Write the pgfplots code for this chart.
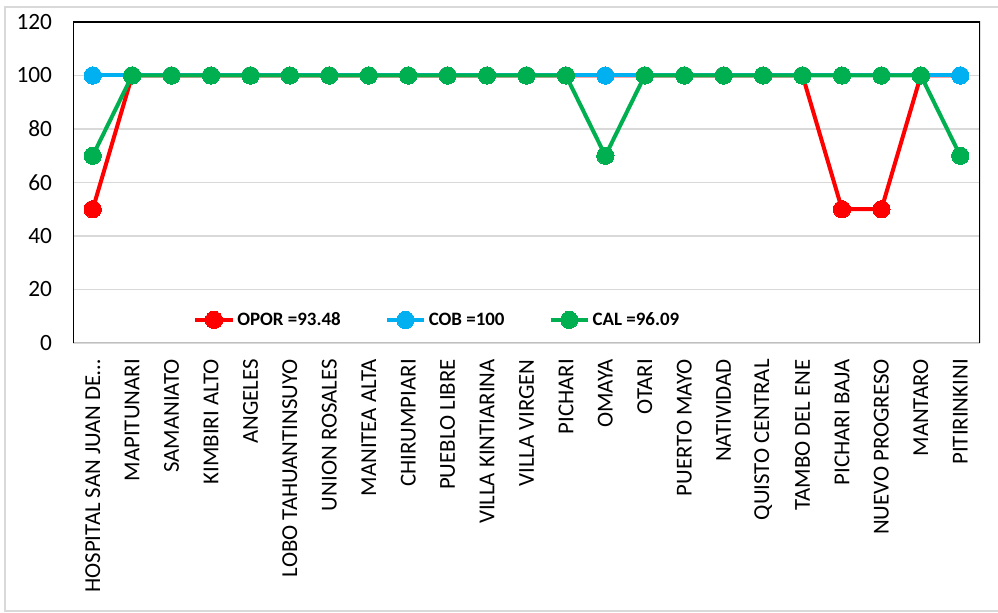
\documentclass[border=0pt]{standalone}
\usepackage{pgfplots}
\pgfplotsset{compat=1.18}
\usepackage{pgfplotstable}
\usepackage{fontspec}
\setmainfont{Carlito}
\definecolor{cRed}{HTML}{FF0000}
\definecolor{cBlue}{HTML}{00B0F0}
\definecolor{cGreen}{HTML}{00B050}
\definecolor{cGrid}{HTML}{D9D9D9}
\definecolor{cFrame}{HTML}{D9D9D9}
\definecolor{cBase}{HTML}{BFBFBF}

\pgfplotstableread{
x opor cob cal
0 50 100 70
1 100 100 100
2 100 100 100
3 100 100 100
4 100 100 100
5 100 100 100
6 100 100 100
7 100 100 100
8 100 100 100
9 100 100 100
10 100 100 100
11 100 100 100
12 100 100 100
13 100 100 70
14 100 100 100
15 100 100 100
16 100 100 100
17 100 100 100
18 100 100 100
19 50 100 100
20 50 100 100
21 100 100 100
22 100 100 70
}\datatable

\begin{document}
\begin{tikzpicture}
\path[use as bounding box] (0,0) rectangle (748.5pt,459.75pt);
\fill[white] (0,0) rectangle (748.5pt,459.75pt);
\draw[cFrame, line width=1.2pt] (3.75pt,1.5pt) rectangle (760pt,454.5pt);
\begin{axis}[
  at={(54.75pt,202.5pt)}, anchor=south west,
  scale only axis,
  width=680.25pt, height=240.75pt,
  xmin=-0.5, xmax=22.5,
  ymin=0, ymax=120,
  ytick={0,20,...,120},
  xtick={0,...,22},
  xticklabels={{HOSPITAL SAN JUAN DE…},MAPITUNARI,SAMANIATO,{KIMBIRI ALTO},ANGELES,{LOBO TAHUANTINSUYO},{UNION ROSALES},{MANITEA ALTA},CHIRUMPIARI,{PUEBLO LIBRE},{VILLA KINTIARINA},{VILLA VIRGEN},PICHARI,OMAYA,OTARI,{PUERTO MAYO},NATIVIDAD,{QUISTO CENTRAL},{TAMBO DEL ENE},{PICHARI BAJA},{NUEVO PROGRESO},MANTARO,PITIRINKINI},
  xticklabel style={rotate=90, anchor=east, inner sep=0pt, font=\fontsize{17.1}{19}\selectfont},
  xticklabel shift=12pt,
  yticklabel style={anchor=east, inner sep=0pt, font=\fontsize{17.5}{19}\selectfont},
  yticklabel shift=15.5pt,
  /pgf/number format/assume math mode=true,
  major tick length=0pt,
  ymajorgrids,
  grid style={cGrid, line width=0.9pt},
  axis line style={draw=none},
  legend style={draw=none, fill=none, at={(0.402,0.072)}, anchor=center,
    legend columns=3, font=\bfseries\fontsize{14.2}{16}\selectfont,
    /tikz/every even column/.append style={column sep=31pt},
    inner sep=0pt},
  legend cell align=left,
  legend image code/.code={
    \draw[#1, mark repeat=2, mark phase=2] plot coordinates {(0pt,0pt) (14pt,0pt) (28pt,0pt)};
  },
]
\draw[cBase, line width=1pt] (rel axis cs:0,0) -- (rel axis cs:1,0);
\draw[black, line width=1.1pt] (rel axis cs:0,0) -- (rel axis cs:0,1) -- (rel axis cs:1,1) -- (rel axis cs:1,0);
\addplot[cRed, line width=3pt, mark=*, mark size=6.5pt, mark options={solid, fill=cRed, draw=cRed, line width=0pt}] table[x=x, y=opor] {\datatable};
\addlegendentry{OPOR =93.48}
\addplot[cBlue, line width=3pt, mark=*, mark size=6.5pt, mark options={solid, fill=cBlue, draw=cBlue, line width=0pt}] table[x=x, y=cob] {\datatable};
\addlegendentry{COB =100}
\addplot[cGreen, line width=3pt, mark=*, mark size=6.5pt, mark options={solid, fill=cGreen, draw=cGreen, line width=0pt}] table[x=x, y=cal] {\datatable};
\addlegendentry{CAL =96.09}
\end{axis}
\end{tikzpicture}
\end{document}
